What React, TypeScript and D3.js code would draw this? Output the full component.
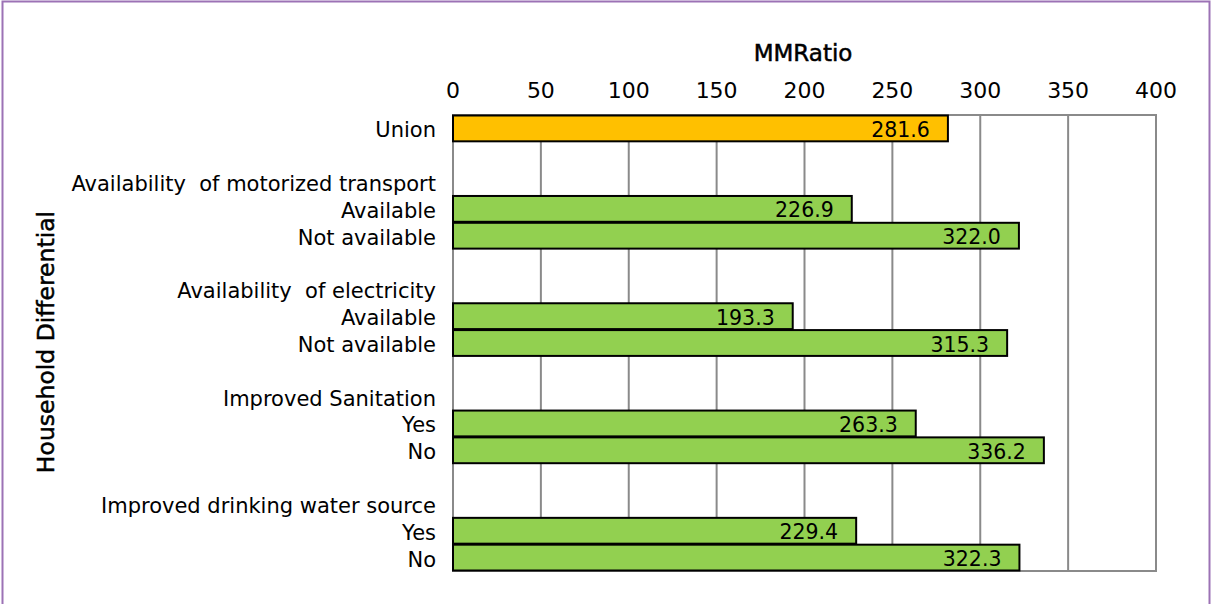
import React from "react";
import * as d3 from "d3";

const categories = [
  "Union",
  "",
  "Availability  of motorized transport",
  "Available",
  "Not available",
  " ",
  "Availability  of electricity",
  "Available ",
  "Not available ",
  "  ",
  "Improved Sanitation",
  "Yes",
  "No",
  "   ",
  "Improved drinking water source",
  "Yes ",
  "No ",
];
const values: (number | null)[] = [
  281.6, null, null, 226.9, 322.0, null, null, 193.3, 315.3, null, null, 263.3, 336.2, null, null, 229.4, 322.3,
];
const tickValues = [0, 50, 100, 150, 200, 250, 300, 350, 400];
const xTitle = "MMRatio";
const yTitle = "Household Differential";

const W = 1212;
const H = 604;
const plot = { left: 453, right: 1156, top: 115, bottom: 571 };
const FONT = "'DejaVu Sans', sans-serif";

export default function App() {
  const x = d3.scaleLinear().domain([0, 400]).range([plot.left, plot.right]);
  const y = d3.scaleBand().domain(categories).range([plot.top, plot.bottom]).paddingInner(0).paddingOuter(0);
  const bw = y.bandwidth();

  return (
    <svg
      width={W}
      height={H}
      style={{ position: "absolute", left: 0, top: 0, background: "#fff" }}
      fontFamily={FONT}
    >
      <rect x={0} y={0} width={W} height={H} fill="#fff" />
      <rect x={2.5} y={1.5} width={1207} height={H + 10} fill="none" stroke="#9c72b5" strokeWidth={2} />
      {tickValues.map((t) => (
        <line key={t} x1={x(t)} x2={x(t)} y1={plot.top} y2={plot.bottom} stroke="#8a8a8a" strokeWidth={2} />
      ))}
      <rect
        x={plot.left}
        y={plot.top}
        width={plot.right - plot.left}
        height={plot.bottom - plot.top}
        fill="none"
        stroke="#8a8a8a"
        strokeWidth={2}
      />
      {categories.map((c, i) => {
        const v = values[i];
        if (v == null) return null;
        const y0 = y(c)! + 0.5;
        return (
          <g key={"b" + i}>
            <rect
              x={x(0)}
              y={y0}
              width={x(v) - x(0)}
              height={bw - 1}
              fill={i === 0 ? "#ffc000" : "#92d050"}
              stroke="#000"
              strokeWidth={2}
            />
            <text x={x(v) - 18} y={y0 + bw / 2 + 8} textAnchor="end" fontSize={20.5} fill="#000">
              {v.toFixed(1)}
            </text>
          </g>
        );
      })}
      {categories.map((c, i) =>
        c.trim() ? (
          <text
            key={"c" + i}
            x={plot.left - 17}
            y={y(c)! + bw / 2 + 9}
            textAnchor="end"
            fontSize={21}
            fill="#000"
            style={{ whiteSpace: "pre" }}
          >
            {c.trim().replace("  ", "\u00a0 ")}
          </text>
        ) : null
      )}
      {tickValues.map((t) => (
        <text key={"t" + t} x={x(t)} y={98} textAnchor="middle" fontSize={22} fill="#000">
          {t}
        </text>
      ))}
      <text x={803} y={61} textAnchor="middle" fontSize={23} fill="#000" stroke="#000" strokeWidth={0.5}>
        {xTitle}
      </text>
      <text
        transform={`translate(54, 342) rotate(-90)`}
        textAnchor="middle"
        fontSize={23.5}
        fill="#000"
        stroke="#000"
        strokeWidth={0.5}
      >
        {yTitle}
      </text>
    </svg>
  );
}
